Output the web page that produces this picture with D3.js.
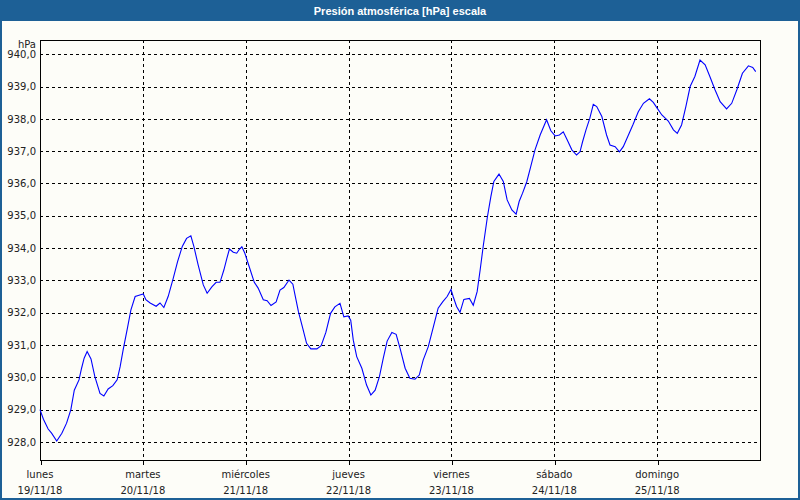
<!DOCTYPE html>
<html>
<head>
<meta charset="utf-8">
<script src="https://cdn.jsdelivr.net/npm/d3@7"></script>
<style>
  html, body { margin: 0; padding: 0; background: #fdfdf8; }
  svg { display: block; }
</style>
</head>
<body>
<svg id="chart" width="800" height="500"></svg>
<script>
// ---- Data ----
const titleText = "Presión atmosférica [hPa] escala";
const unitLabel = "hPa";
const dayNames = ["lunes", "martes", "miércoles", "jueves", "viernes", "sábado", "domingo"];
const dayDates = ["19/11/18", "20/11/18", "21/11/18", "22/11/18", "23/11/18", "24/11/18", "25/11/18"];
const yTicks = [928, 929, 930, 931, 932, 933, 934, 935, 936, 937, 938, 939, 940];
// hours since lunes 19/11/18 00:00
const hours = [
  0, 0.8, 1.9, 2.7, 3.9, 5.1, 6.2, 7.2, 8.0, 9.1, 9.7, 10.3, 11.0, 11.9, 12.8, 14.0, 14.9, 15.9, 17.0, 18.0,
  18.7, 19.4, 20.4, 21.2, 22.2, 23.3, 24.1, 24.7, 25.7, 27.1, 28.0, 28.9, 29.9, 31.1, 32.1, 33.2, 34.2, 35.2,
  35.9, 36.9, 38.1, 39.0, 40.1, 41.1, 42.0,
  42.9, 43.6, 44.2, 45.1, 45.9, 46.4, 47.1, 47.8, 48.8, 50.0, 50.9, 52.1, 53.0, 53.9, 55.1, 56.0, 56.9, 58.1,
  59.0, 59.5, 60.3, 61.3, 62.2, 63.2, 64.6, 65.6, 66.7, 67.8, 68.8, 70.0, 70.9, 71.9, 72.5, 73.1, 73.9, 75.1,
  76.2, 77.2, 78.2, 79.2, 80.1, 81.0, 82.1, 83.1, 84.0,
  85.2, 86.3, 87.5, 88.5, 89.4, 90.6, 91.8, 92.9, 94.0, 95.0, 95.9, 96.4, 97.2, 98.0, 98.9, 100.2, 101.1,
  102.0, 102.7, 103.4, 104.4, 105.2, 105.9, 107.1, 108.1, 109.0, 110.1, 111.1, 111.8, 112.6, 113.6, 114.5,
  115.5, 116.7, 118.2, 119.2, 120.2, 121.2, 122.1, 123.0, 124.1, 125.2, 126.0,
  126.6, 127.4, 128.3, 129.1, 129.9, 131.1, 132.2, 133.0, 134.2, 135.2, 136.1, 137.3, 138.4, 139.6, 140.8,
  142.2, 143.1, 144.0, 145.1, 146.6, 147.8, 148.7, 149.7, 150.7, 151.7, 152.8, 154.0, 155.2, 156.3, 157.5,
  158.7, 160.2, 161.4, 162.6, 163.9, 165.3, 166.3, 167.0
];
const pressure = [
  929.0, 928.7, 928.4, 928.27, 928.03, 928.27, 928.58, 929.0, 929.6, 929.92, 930.28, 930.59, 930.8, 930.57,
  930.02, 929.5, 929.42, 929.64, 929.74, 929.92, 930.33, 930.85, 931.52, 932.08, 932.5, 932.55, 932.58,
  932.4, 932.3, 932.2, 932.3, 932.16, 932.5, 933.07, 933.58, 934.05, 934.3, 934.38, 934.05, 933.48, 932.86,
  932.6, 932.8, 932.94, 932.94,
  933.32, 933.68, 933.97, 933.87, 933.84, 933.94, 934.04, 933.84, 933.43, 932.94, 932.76, 932.4, 932.37,
  932.22, 932.33, 932.7, 932.78, 933.01, 932.88, 932.55, 932.03, 931.52, 931.05, 930.88, 930.88, 930.98,
  931.39, 931.98, 932.18, 932.29, 931.87, 931.9, 931.77, 931.15, 930.64, 930.28, 929.76, 929.45, 929.6,
  930.02, 930.59, 931.12, 931.39, 931.33, 930.9,
  930.28, 929.97, 929.94, 930.07, 930.53, 930.95, 931.57, 932.14, 932.34, 932.5, 932.72, 932.5, 932.19,
  932.01, 932.41, 932.44, 932.23, 932.65, 933.32, 934.04, 934.97, 935.59, 936.06, 936.29, 936.06, 935.49,
  935.18, 935.05, 935.44, 935.7, 936.06, 936.52, 937.04, 937.5, 937.97, 937.63, 937.47, 937.5, 937.6,
  937.35, 937.04, 936.88, 936.98,
  937.29, 937.66, 938.02, 938.45, 938.38, 938.07, 937.5, 937.19, 937.14, 936.98, 937.14, 937.5, 937.83,
  938.22, 938.48, 938.62, 938.51, 938.33, 938.12, 937.93, 937.66, 937.55, 937.81, 938.38, 939.0, 939.31,
  939.82, 939.67, 939.31, 938.9, 938.53, 938.31, 938.48, 938.9, 939.41, 939.64, 939.59, 939.46
];

// ---- Layout ----
const W = 800, H = 500;
const plot = { left: 40, right: 760, top: 40, bottom: 460 };
const blue = "#1d6096";
const fontFamily = "'DejaVu Sans', Verdana, sans-serif";

const svg = d3.select("#chart");

// background
svg.append("rect").attr("x", 0).attr("y", 0).attr("width", W).attr("height", H).attr("fill", "#fdfdf8");

// outer frame
svg.append("rect").attr("x", 1).attr("y", 1).attr("width", W - 2).attr("height", H - 2)
  .attr("fill", "none").attr("stroke", blue).attr("stroke-width", 2);

// title bar
svg.append("rect").attr("x", 0).attr("y", 0).attr("width", W).attr("height", 21).attr("fill", blue);
svg.append("text").attr("x", W / 2).attr("y", 15).attr("text-anchor", "middle")
  .attr("fill", "#ffffff").attr("font-family", "'Liberation Sans', Arial, sans-serif")
  .attr("font-weight", "bold").attr("font-size", "11px").text(titleText);

// scales
const x = d3.scaleLinear().domain([0, 168]).range([plot.left, plot.right]);
const y = d3.scaleLinear().domain([927.44, 940.44]).range([plot.bottom, plot.top]);

const crisp = v => Math.round(v) + 0.5;

// horizontal grid
svg.append("g").selectAll("line").data(yTicks).join("line")
  .attr("x1", plot.left).attr("x2", plot.right)
  .attr("y1", d => crisp(y(d))).attr("y2", d => crisp(y(d)))
  .attr("stroke", "#000").attr("stroke-width", 1).attr("stroke-dasharray", "3,3")
  .attr("shape-rendering", "crispEdges");

// vertical grid
const dayIdx = d3.range(1, dayNames.length);
svg.append("g").selectAll("line").data(dayIdx).join("line")
  .attr("y1", plot.top).attr("y2", plot.bottom)
  .attr("x1", d => crisp(x(d * 24))).attr("x2", d => crisp(x(d * 24)))
  .attr("stroke", "#000").attr("stroke-width", 1).attr("stroke-dasharray", "3,3")
  .attr("shape-rendering", "crispEdges");

// plot frame
svg.append("rect").attr("x", plot.left + 0.5).attr("y", plot.top + 0.5)
  .attr("width", plot.right - plot.left).attr("height", plot.bottom - plot.top)
  .attr("fill", "none").attr("stroke", "#000").attr("stroke-width", 1)
  .attr("shape-rendering", "crispEdges");

// y axis labels
const yAxis = d3.axisLeft(y).tickValues(yTicks).tickSize(0).tickPadding(4)
  .tickFormat(d => d3.format(".1f")(d).replace(".", ","));
const gy = svg.append("g").attr("transform", `translate(${plot.left},0)`).call(yAxis);
gy.select(".domain").remove();
gy.selectAll("text").attr("font-family", fontFamily).attr("font-size", "10px").attr("fill", "#222");

svg.append("text").attr("x", 36).attr("y", 48).attr("text-anchor", "end")
  .attr("font-family", fontFamily).attr("font-size", "10px").attr("fill", "#222").text(unitLabel);

// x axis ticks & labels
const xAxis = d3.axisBottom(x).tickValues(d3.range(0, dayNames.length).map(i => i * 24))
  .tickSize(4).tickFormat("");
const gx = svg.append("g").attr("transform", `translate(0.5,${plot.bottom + 0.5})`).call(xAxis);
gx.select(".domain").remove();
gx.selectAll(".tick line").attr("stroke", "#000").attr("shape-rendering", "crispEdges");

const xl = svg.append("g").selectAll("g").data(dayNames).join("g")
  .attr("transform", (d, i) => `translate(${x(i * 24)},0)`);
xl.append("text").attr("y", 478).attr("text-anchor", "middle")
  .attr("font-family", fontFamily).attr("font-size", "10px").attr("fill", "#222").text(d => d);
xl.append("text").attr("y", 494).attr("text-anchor", "middle")
  .attr("font-family", fontFamily).attr("font-size", "10px").attr("fill", "#222")
  .text((d, i) => dayDates[i]);

// line
const series = hours.map((h, i) => ({ h, v: pressure[i] }));
svg.append("path").datum(series)
  .attr("fill", "none").attr("stroke", "#0000ff").attr("stroke-width", 1.1)
  .attr("d", d3.line().x(d => x(d.h)).y(d => y(d.v)));
</script>
</body>
</html>
